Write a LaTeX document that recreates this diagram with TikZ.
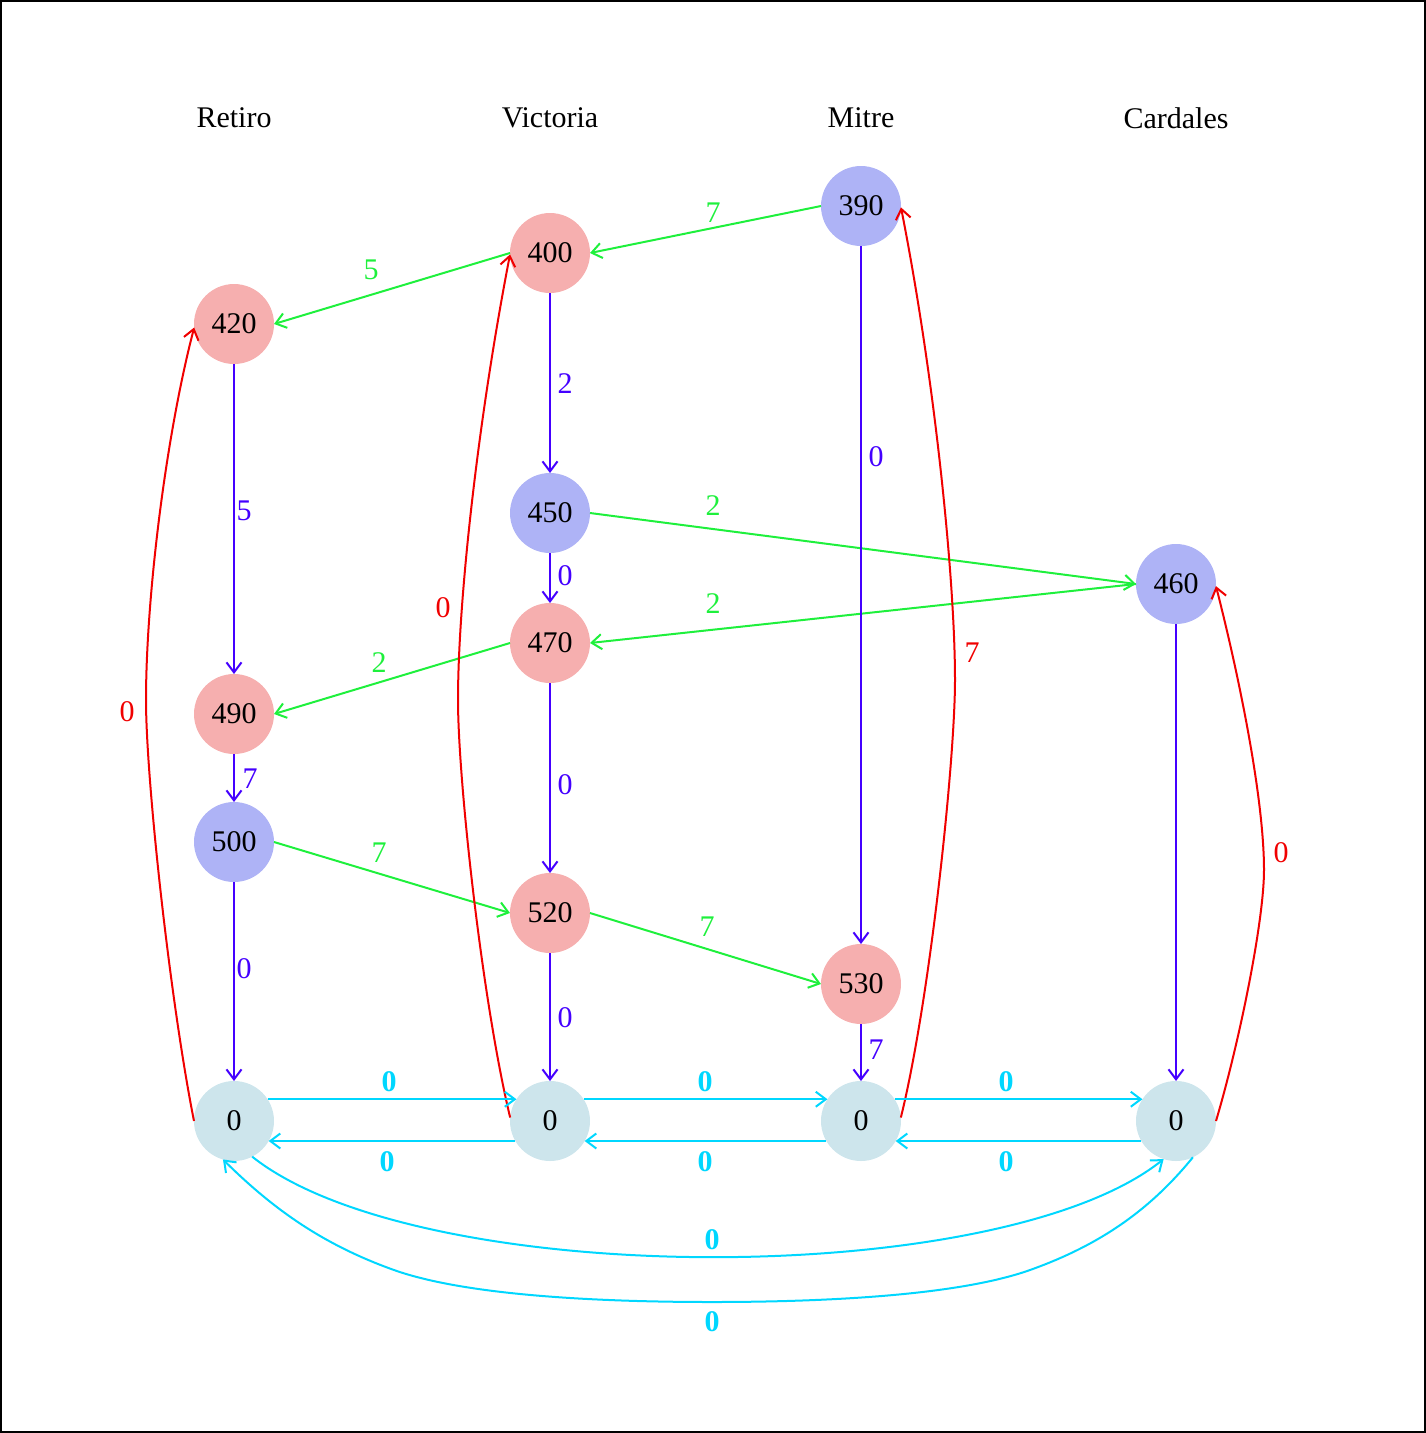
\documentclass[tikz,border=0pt]{standalone}
\usepackage{fontspec}
\setmainfont{Liberation Serif}
\usetikzlibrary{arrows.meta}
\definecolor{nblue}{RGB}{174,179,246}
\definecolor{npink}{RGB}{246,175,175}
\definecolor{ncyan}{RGB}{205,229,236}
\definecolor{egreen}{RGB}{30,240,60}
\definecolor{eblue}{RGB}{68,0,255}
\definecolor{ered}{RGB}{240,0,0}
\definecolor{ecyan}{RGB}{0,215,255}
\tikzset{
  circ/.style={circle, minimum size=80pt, inner sep=0pt, outer sep=0pt, font=\fontsize{30}{36}\selectfont},
  bnode/.style={circ, fill=nblue},
  pnode/.style={circ, fill=npink},
  cnode/.style={circ, fill=ncyan},
  title/.style={font=\fontsize{30}{36}\selectfont},
  edge/.style={line width=2pt, -{Straight Barb[length=10pt,width=15pt,line width=2pt]}},
  ge/.style={edge, egreen},
  be/.style={edge, eblue},
  re/.style={edge, ered},
  ce/.style={edge, ecyan},
  lab/.style={font=\fontsize{30}{36}\selectfont, inner sep=0pt},
  clab/.style={lab, text=ecyan, font=\fontsize{30}{36}\selectfont\bfseries},
}
\begin{document}
\begin{tikzpicture}[x=1pt, y=-1pt]
\useasboundingbox (0,0) rectangle (1426,1433);
\draw[line width=2pt] (1,1) rectangle (1425,1432);
% titles
\node[title] (tR) at (234,118) {Retiro};
\node[title] (tV) at (550,118) {Victoria};
\node[title] (tM) at (861,118) {Mitre};
\node[title] (tC) at (1176,118) {Cardales};
% nodes
\node[bnode] (n390) at (861,206) {390};
\node[pnode] (n400) at (550,253) {400};
\node[pnode] (n420) at (234,324) {420};
\node[bnode] (n450) at (550,513) {450};
\node[bnode] (n460) at (1176,584) {460};
\node[pnode] (n470) at (550,643) {470};
\node[pnode] (n490) at (234,714) {490};
\node[bnode] (n500) at (234,842) {500};
\node[pnode] (n520) at (550,913) {520};
\node[pnode] (n530) at (861,984) {530};
\node[cnode] (b1) at (234,1121) {0};
\node[cnode] (b2) at (550,1121) {0};
\node[cnode] (b3) at (861,1121) {0};
\node[cnode] (b4) at (1176,1121) {0};
% green edges
\draw[ge] (n390.west) -- (n400.east) node[lab, text=egreen, at={(713,213)}] {7};
\draw[ge] (n400.west) -- (n420.east) node[lab, text=egreen, at={(371,270)}] {5};
\draw[ge] (n450.east) -- (n460.west) node[lab, text=egreen, at={(713,506)}] {2};
\draw[ge] (n460.west) -- (n470.east) node[lab, text=egreen, at={(713,604)}] {2};
\draw[ge] (n470.west) -- (n490.east) node[lab, text=egreen, at={(379,663)}] {2};
\draw[ge] (n500.east) -- (n520.west) node[lab, text=egreen, at={(379,853)}] {7};
\draw[ge] (n520.east) -- (n530.west) node[lab, text=egreen, at={(707,927)}] {7};
% blue edges
\draw[be] (n400) -- (n450) node[lab, text=eblue, at={(565,384)}] {2};
\draw[be] (n390) -- (n530) node[lab, text=eblue, at={(876,457)}] {0};
\draw[be] (n420) -- (n490) node[lab, text=eblue, at={(244,511)}] {5};
\draw[be] (n450) -- (n470) node[lab, text=eblue, at={(565,576)}] {0};
\draw[be] (n470) -- (n520) node[lab, text=eblue, at={(565,785)}] {0};
\draw[be] (n490) -- (n500) node[lab, text=eblue, at={(250,779)}] {7};
\draw[be] (n500) -- (b1) node[lab, text=eblue, at={(244,969)}] {0};
\draw[be] (n520) -- (b2) node[lab, text=eblue, at={(565,1018)}] {0};
\draw[be] (n530) -- (b3) node[lab, text=eblue, at={(876,1050)}] {7};
\draw[be] (n460) -- (b4);
% red edges
\draw[re] (b1.west) .. controls (170,1000) and (146,780) .. (146,700)
  .. controls (146,600) and (165,440) .. (n420.185);
\node[lab, text=ered] (l1) at (127,712) {0};
\draw[re] (b2.175) .. controls (482,1000) and (458,780) .. (458,700)
  .. controls (458,600) and (478,420) .. (n400.182);
\node[lab, text=ered] (l2) at (443,608) {0};
\draw[re] (b3.5) .. controls (930,1000) and (955,760) .. (955,680)
  .. controls (955,580) and (935,380) .. (n390.-2);
\node[lab, text=ered] (l3) at (972,653) {7};
\draw[re] (b4.east) .. controls (1240,1040) and (1264,920) .. (1264,870)
  .. controls (1264,800) and (1240,680) .. (n460.-3);
\node[lab, text=ered] (l4) at (1281,853) {0};
% cyan straight edges
\draw[ce] (b1.33) -- (b2.147) node[clab, at={(389,1082)}] {0};
\draw[ce] (b2.-150) -- (b1.-30) node[clab, at={(387,1162)}] {0};
\draw[ce] (b2.33) -- (b3.147) node[clab, at={(705,1082)}] {0};
\draw[ce] (b3.-150) -- (b2.-30) node[clab, at={(705,1162)}] {0};
\draw[ce] (b3.33) -- (b4.147) node[clab, at={(1006,1082)}] {0};
\draw[ce] (b4.-150) -- (b3.-30) node[clab, at={(1006,1162)}] {0};
% cyan curves
\draw[ce] (b1.-63) .. controls (420,1290) and (1000,1290) .. (b4.-108);
\node[clab] (l5) at (712,1240) {0};
\draw[ce] (b4.-65) .. controls (1150,1210) and (1100,1245) .. (1030,1270)
  .. controls (960,1295) and (830,1302) .. (712,1302)
  .. controls (594,1302) and (464,1295) .. (394,1270)
  .. controls (324,1245) and (274,1210) .. (b1.-106);
\node[clab] (l6) at (712,1322) {0};
\end{tikzpicture}
\end{document}
